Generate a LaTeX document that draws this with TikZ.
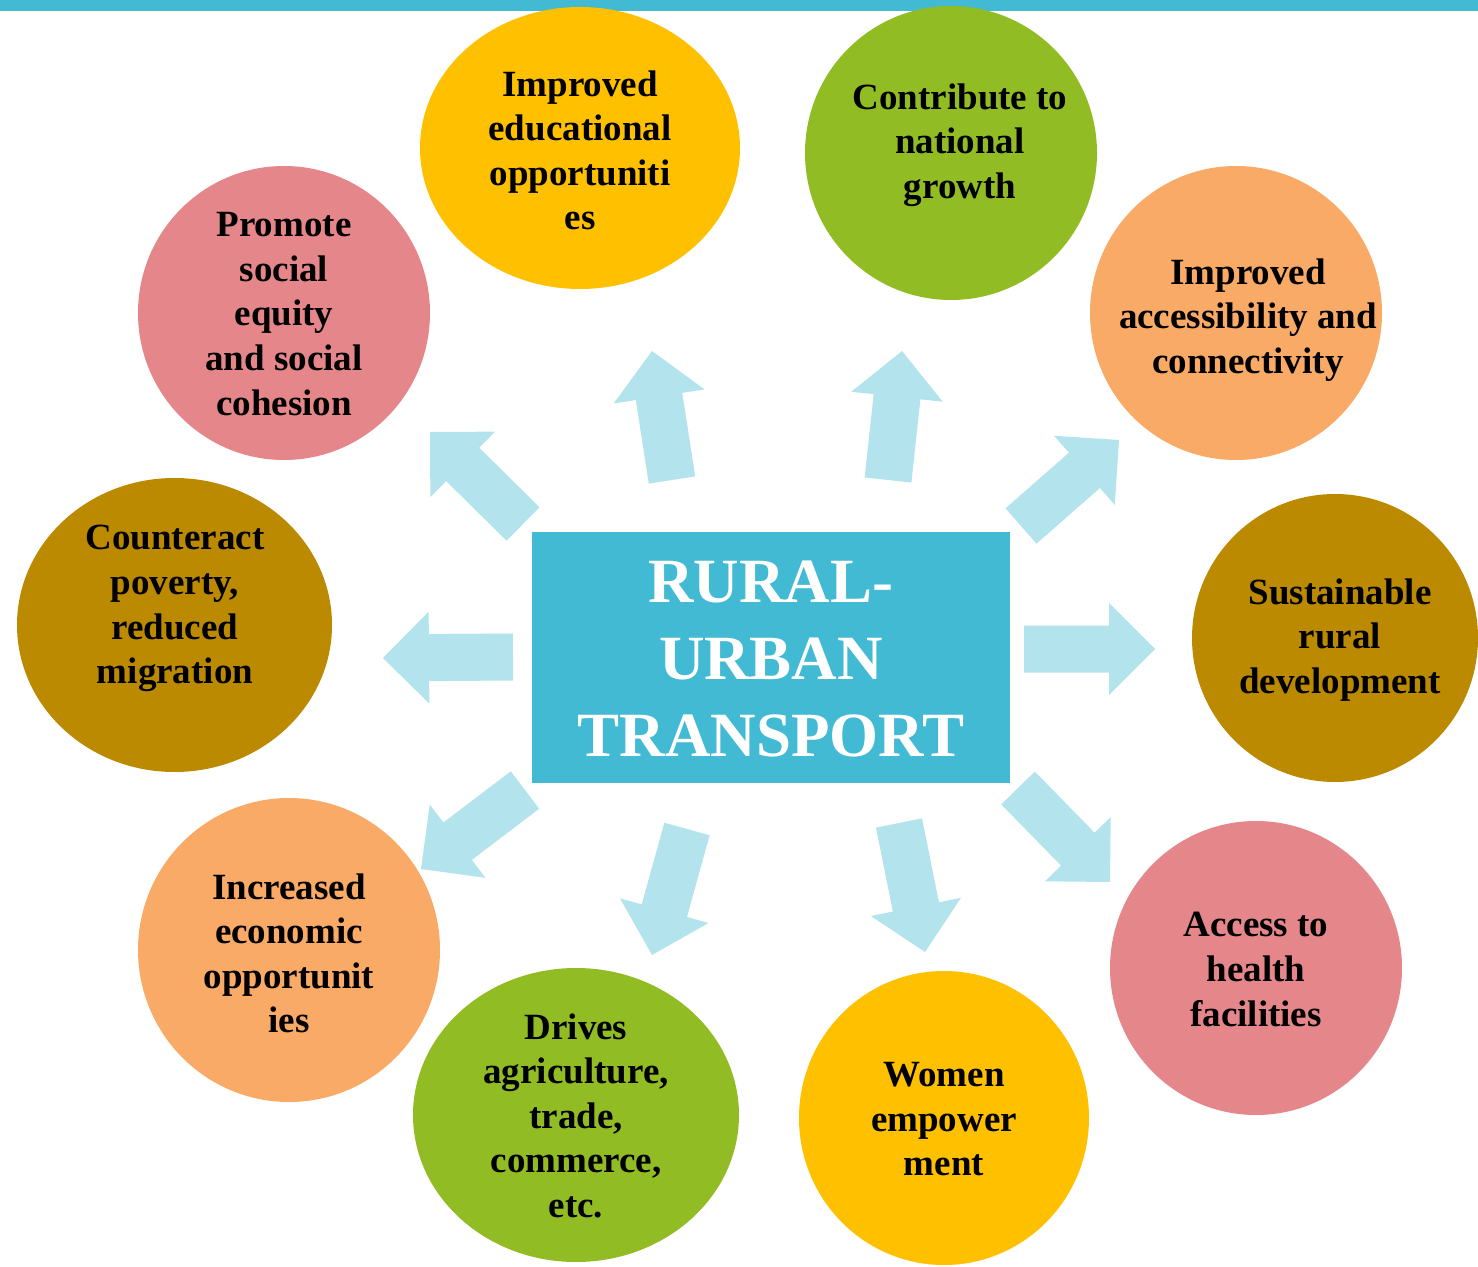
\documentclass[tikz,border=0pt]{standalone}
\usepackage{fontspec}
\setmainfont{Liberation Serif}
\usetikzlibrary{calc,shapes.geometric}
\definecolor{boxblue}{HTML}{42BAD4}
\definecolor{arrowblue}{HTML}{B3E3ED}
\definecolor{cyellow}{HTML}{FFC000}
\definecolor{cgreen}{HTML}{92BC24}
\definecolor{corange}{HTML}{F9AA66}
\definecolor{cgold}{HTML}{BC8A00}
\definecolor{cpink}{HTML}{E5878A}
\newcommand\blockarrow[3]{%
  \coordinate (#1-t) at #2;
  \coordinate (#1-p) at #3;
  \coordinate (#1-h) at ($(#1-p)!23pt!(#1-t)$);
  \fill[arrowblue] ($(#1-t)!11.75pt!90:(#1-p)$) -- ($(#1-h)!11.75pt!-90:(#1-t)$)
    -- ($(#1-h)!23pt!-90:(#1-t)$) -- (#1-p) -- ($(#1-h)!23pt!90:(#1-t)$)
    -- ($(#1-h)!11.75pt!90:(#1-t)$) -- ($(#1-t)!11.75pt!-90:(#1-p)$) -- cycle;
}
\begin{document}
\begin{tikzpicture}[x=0.5pt,y=-0.5pt,
  blob/.style={ellipse, inner sep=0pt, draw=none},
  lbl/.style={anchor=north, inner sep=0pt, align=center, text=black,
    font={\fontsize{18.5pt}{22.3pt}\selectfont\bfseries}},
  title/.style={anchor=north, inner sep=0pt, align=center, text=white,
    font={\fontsize{31.5pt}{38.5pt}\selectfont\bfseries}}]
\useasboundingbox (0,0) rectangle (1478,1267);
\fill[boxblue] (0,0) rectangle (1478,11);

% arrows
\blockarrow{a1}{(672,480)}{(652,351)}
\blockarrow{a2}{(888,480)}{(902,351)}
\blockarrow{a3}{(1021,526)}{(1119,440)}
\blockarrow{a4}{(1024,649)}{(1155,649)}
\blockarrow{a5}{(1018,788)}{(1110,882)}
\blockarrow{a6}{(899,823)}{(925,952)}
\blockarrow{a7}{(687,829)}{(652,955)}
\blockarrow{a8}{(525,790)}{(421,869)}
\blockarrow{a9}{(513,657)}{(383,658)}
\blockarrow{a10}{(523,524)}{(430,432)}

% circles
\node[blob, fill=cyellow, minimum width=160pt, minimum height=141pt] (c1) at (580,148) {};
\node[blob, fill=cgreen, minimum width=146pt, minimum height=147pt] (c2) at (951,153) {};
\node[blob, fill=corange, minimum width=146pt, minimum height=147pt] (c3) at (1236,313) {};
\node[blob, fill=cgold, minimum width=143pt, minimum height=144pt] (c4) at (1335,638) {};
\node[blob, fill=cpink, minimum width=146pt, minimum height=147pt] (c5) at (1256,968) {};
\node[blob, fill=cyellow, minimum width=145pt, minimum height=147pt] (c6) at (944,1118) {};
\node[blob, fill=cgreen, minimum width=163pt, minimum height=147pt] (c7) at (576,1115) {};
\node[blob, fill=corange, minimum width=151pt, minimum height=152pt] (c8) at (289,950) {};
\node[blob, fill=cgold, minimum width=157.5pt, minimum height=147pt] (c9) at (174.5,625) {};
\node[blob, fill=cpink, minimum width=146pt, minimum height=147pt] (c10) at (284,313) {};

% labels
\node[lbl] (t1) at (580,70) {Improved\\educational\\opportuniti\\es};
\node[lbl] (t2) at (960,83) {Contribute to\\national\\growth};
\node[lbl] (t3) at (1248,258) {Improved\\accessibility and\\connectivity};
\node[lbl] (t4) at (1340,578) {Sustainable\\rural\\development};
\node[lbl] (t5) at (1256,912) {Access to\\health\\facilities};
\node[lbl] (t6) at (944,1062) {Women\\empower\\ment};
\node[lbl] (t7) at (576,1013) {Drives\\agriculture,\\trade,\\commerce,\\etc.};
\node[lbl] (t8) at (289,873) {Increased\\economic\\opportunit\\ies};
\node[lbl] (t9) at (175,525) {Counteract\\poverty,\\reduced\\migration};
\node[lbl] (t10) at (284,212) {Promote\\social\\equity\\and social\\cohesion};

% centre
\node[rectangle, fill=boxblue, inner sep=0pt, minimum width=239pt, minimum height=125.5pt] (hub) at (771,657.5) {};
\node[title] (htext) at (771,561) {RURAL-\\URBAN\\TRANSPORT};
\end{tikzpicture}
\end{document}
